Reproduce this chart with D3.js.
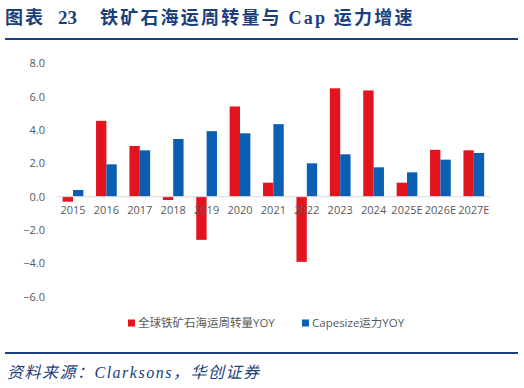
<!DOCTYPE html>
<html>
<head>
<meta charset="utf-8">
<script src="https://cdn.jsdelivr.net/npm/d3@7"></script>
<style>
  body { margin: 0; background: #fff; }
  svg { display: block; }
</style>
</head>
<body>
<svg width="524" height="388"></svg>
<script>
// data
var years = ['2015', '2016', '2017', '2018', '2019', '2020', '2021', '2022', '2023', '2024', '2025E', '2026E', '2027E'];
var ironOre = [-0.3, 4.55, 3.04, -0.2, -2.59, 5.41, 0.84, -3.91, 6.5, 6.37, 0.84, 2.81, 2.78];
var capesize = [0.4, 1.94, 2.78, 3.46, 3.93, 3.8, 4.35, 2.0, 2.54, 1.76, 1.46, 2.22, 2.62];
var seriesNames = ['全球铁矿石海运周转量YOY', 'Capesize运力YOY'];
var yTicks = [-6, -4, -2, 0, 2, 4, 6, 8];

var colors = ['#E3141E', '#0A5EB4'];
var navy = '#1B3F7B';

var svg = d3.select('svg');

// title
var titleFont = '"Liberation Serif", "Noto Sans CJK SC", serif';
svg.append('text')
    .attr('x', 5).attr('y', 24)
    .style('font-family', titleFont)
    .style('font-weight', 'bold')
    .style('font-size', '18px')
    .style('letter-spacing', '2px')
    .style('fill', navy)
    .text('图表');
svg.append('text')
    .attr('x', 58).attr('y', 24)
    .style('font-family', titleFont)
    .style('font-weight', 'bold')
    .style('font-size', '19px')
    .style('fill', navy)
    .text('23');
svg.append('text')
    .attr('x', 100).attr('y', 24)
    .style('font-family', titleFont)
    .style('font-weight', 'bold')
    .style('font-size', '18px')
    .style('letter-spacing', '2.2px')
    .style('fill', navy)
    .text('铁矿石海运周转量与 Cap 运力增速');
svg.append('line')
    .attr('x1', 5).attr('x2', 518).attr('y1', 39).attr('y2', 39)
    .attr('stroke', navy).attr('stroke-width', 2);

// scales
var x0 = d3.scaleBand()
    .domain(years)
    .range([56.3, 490.5])
    .paddingInner(0.38)
    .paddingOuter(0.19);
var x1 = d3.scaleBand()
    .domain([0, 1])
    .range([0, x0.bandwidth()]);
var y = d3.scaleLinear()
    .domain([-6, 8])
    .range([296.7, 63.3]);

// y axis labels
var yAxis = svg.append('g')
    .attr('transform', 'translate(45,0)')
    .call(d3.axisLeft(y).tickValues(yTicks).tickFormat(d3.format('.1f')).tickSize(0).tickPadding(0));
yAxis.select('.domain').remove();
yAxis.selectAll('text')
    .style('font-family', '"Open Sans", "Noto Sans", sans-serif')
    .style('font-size', '11px')
    .style('fill', '#595959');

// bars
var data = years.map(function(yr, i) {
    return { year: yr, values: [ironOre[i], capesize[i]] };
});
var groups = svg.selectAll('.grp')
    .data(data)
    .enter().append('g')
    .attr('class', 'grp')
    .attr('transform', d => 'translate(' + x0(d.year) + ',0)');
groups.selectAll('rect')
    .data(d => d.values.map((v, k) => ({ k: k, v: v })))
    .enter().append('rect')
    .attr('x', d => x1(d.k))
    .attr('width', x1.bandwidth())
    .attr('y', d => y(Math.max(0, d.v)))
    .attr('height', d => Math.abs(y(d.v) - y(0)))
    .attr('fill', d => colors[d.k]);

// zero line
svg.append('line')
    .attr('x1', 56.3).attr('x2', 490.5)
    .attr('y1', y(0)).attr('y2', y(0))
    .attr('stroke', '#D9D9D9').attr('stroke-width', 1);

// x axis labels
var xAxis = svg.append('g')
    .attr('transform', 'translate(0,' + (y(0) + 10) + ')')
    .call(d3.axisBottom(x0).tickSize(0).tickPadding(0));
xAxis.select('.domain').remove();
xAxis.selectAll('text')
    .style('font-family', '"Open Sans", "Noto Sans", sans-serif')
    .style('font-size', '11px')
    .style('fill', '#595959');

// legend
var legendX = [128, 302];
var legend = svg.selectAll('.leg')
    .data(seriesNames)
    .enter().append('g')
    .attr('class', 'leg')
    .attr('transform', (d, i) => 'translate(' + legendX[i] + ',323)');
legend.append('rect')
    .attr('x', 0).attr('y', -3.5)
    .attr('width', 7).attr('height', 7)
    .attr('fill', (d, i) => colors[i]);
legend.append('text')
    .attr('x', 10).attr('y', 4)
    .style('font-family', '"Open Sans", "Noto Sans CJK SC", sans-serif')
    .style('font-size', '11.5px')
    .style('fill', '#595959')
    .text(d => d);

// footer
svg.append('line')
    .attr('x1', 5).attr('x2', 518).attr('y1', 353).attr('y2', 353)
    .attr('stroke', navy).attr('stroke-width', 2);
svg.append('text')
    .attr('x', 7).attr('y', 378)
    .style('font-family', '"Liberation Serif", "Noto Sans CJK SC", serif')
    .style('font-style', 'italic')
    .style('font-size', '16px')
    .style('letter-spacing', '1.5px')
    .style('fill', navy)
    .text('资料来源：Clarksons，华创证券');
</script>
</body>
</html>
